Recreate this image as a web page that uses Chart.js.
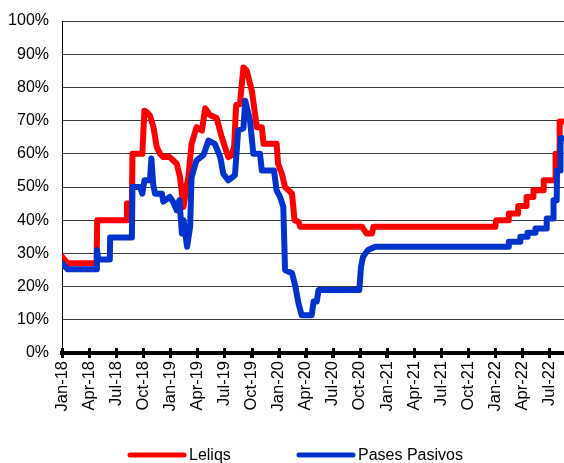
<!DOCTYPE html>
<html>
<head>
<meta charset="utf-8">
<script src="https://cdn.jsdelivr.net/npm/chart.js@4.4.1/dist/chart.umd.min.js"></script>
<style>
  html, body { margin: 0; padding: 0; background: #fff; }
  #wrap { width: 564px; height: 463px; position: relative; }
</style>
</head>
<body>
<div id="wrap"><canvas id="c" width="564" height="463"></canvas></div>
<script>
const tickLabels = ['Jan-18','Apr-18','Jul-18','Oct-18','Jan-19','Apr-19','Jul-19','Oct-19','Jan-20','Apr-20','Jul-20','Oct-20','Jan-21','Apr-21','Jul-21','Oct-21','Jan-22','Apr-22','Jul-22'];
const seriesNames = ['Leliqs', 'Pases Pasivos'];

const leliqDates = ['2018-01-01','2018-01-21','2018-04-26','2018-04-28','2018-08-06','2018-08-07','2018-08-24','2018-08-26','2018-09-28','2018-10-05','2018-10-14','2018-10-24','2018-11-05','2018-11-16','2018-11-27','2018-12-08','2018-12-30','2019-01-23','2019-02-03','2019-02-14','2019-02-23','2019-03-01','2019-03-12','2019-03-29','2019-04-16','2019-04-27','2019-05-13','2019-06-05','2019-06-22','2019-07-14','2019-07-25','2019-08-03','2019-08-10','2019-08-23','2019-09-04','2019-09-15','2019-10-02','2019-10-19','2019-11-05','2019-11-11','2019-12-25','2019-12-30','2020-01-12','2020-01-23','2020-02-15','2020-02-23','2020-03-07','2020-03-13','2020-10-08','2020-10-24','2020-11-11','2020-11-16','2022-01-01','2022-01-04','2022-02-14','2022-02-15','2022-03-17','2022-03-18','2022-04-14','2022-04-15','2022-05-07','2022-05-08','2022-06-11','2022-06-12','2022-07-21','2022-07-22','2022-08-04','2022-08-05','2022-08-20'];
const leliqValues = [29,27,27,40,40,45,45,60,60,73,72.5,71.5,68,62,60,59,59,57,53,44,50,53,63,68,67,73.7,71.7,70.8,65,59,59.5,62,74.7,75,86,85,79,68,68,63,63,57,54,50,48,40,39.5,38,38,36,36,38,38,40,40,42,42,44.3,44.3,47,47,49,49,52,52,60,60,69.7,69.7];

const pasesDates = ['2018-01-01','2018-01-21','2018-04-24','2018-04-27','2018-05-02','2018-06-10','2018-06-11','2018-08-24','2018-08-26','2018-09-20','2018-09-28','2018-10-05','2018-10-24','2018-10-29','2018-11-04','2018-11-10','2018-12-03','2018-12-08','2018-12-30','2019-01-11','2019-01-23','2019-02-01','2019-02-09','2019-02-14','2019-02-25','2019-03-07','2019-03-12','2019-03-29','2019-04-21','2019-05-08','2019-05-30','2019-06-17','2019-06-27','2019-07-14','2019-08-06','2019-08-17','2019-09-04','2019-09-10','2019-09-26','2019-10-07','2019-10-30','2019-11-05','2019-12-16','2019-12-25','2020-01-06','2020-01-17','2020-01-23','2020-02-15','2020-02-26','2020-03-07','2020-03-18','2020-04-21','2020-04-27','2020-05-08','2020-05-14','2020-09-29','2020-10-05','2020-10-12','2020-10-29','2020-11-22','2022-02-14','2022-02-15','2022-03-24','2022-03-25','2022-04-17','2022-04-18','2022-05-14','2022-05-15','2022-06-21','2022-06-22','2022-07-14','2022-07-15','2022-07-26','2022-07-27','2022-08-07','2022-08-08','2022-08-20'];
const pasesValues = [27,25.2,25.2,31,28.2,28.2,34.8,34.8,50,50,48,52,52,58.6,51,48,48,45.6,47,45.5,43,46,36,40,32,38,53,58,59.6,64,63,59,54,52,53.6,67,67.7,76,70,60,60,55,55,49,47,44,25,24,20,15,11.4,11.4,15.5,15.5,19,19,26,29,31,32,32,33.5,33.5,35,35,36.2,36.2,37.5,37.5,40.5,40.5,46,46,55,55,64.7,64.7];

const yTicks = [0,10,20,30,40,50,60,70,80,90,100];
const seriesColors = ['#FF0000', '#0033CC'];

// months elapsed since Jan-2018 (fractional)
function monthIndex(s) {
  const [y, m, d] = s.split('-').map(Number);
  const dim = new Date(y, m, 0).getDate();
  return (y - 2018) * 12 + (m - 1) + (d - 1) / dim;
}
function toPoints(dates, values) {
  return dates.map((d, i) => ({ x: monthIndex(d), y: values[i] }));
}
const xMax = monthIndex('2022-08-20');

const FONT = '"Liberation Sans", Arial, sans-serif';
Chart.defaults.font.family = FONT;
Chart.defaults.color = '#000';

const bottomLegend = {
  id: 'bottomLegend',
  afterDraw(chart) {
    const ctx = chart.ctx;
    const ds = chart.data.datasets;
    const y = 455;
    const starts = [130, 299];
    ctx.save();
    ctx.font = '16px ' + FONT;
    ctx.textBaseline = 'middle';
    ctx.textAlign = 'left';
    ds.forEach((d, i) => {
      const x0 = starts[i];
      ctx.strokeStyle = d.borderColor;
      ctx.lineWidth = 5;
      ctx.lineCap = 'round';
      ctx.beginPath();
      ctx.moveTo(x0, y);
      ctx.lineTo(x0 + 54, y);
      ctx.stroke();
      ctx.fillStyle = '#000';
      ctx.fillText(d.label, x0 + 59, y + 1);
    });
    ctx.restore();
  }
};

const axisTicks = {
  id: 'axisTicks',
  afterDraw(chart) {
    const xs = chart.scales.x;
    const ctx = chart.ctx;
    const yb = chart.chartArea.bottom;
    ctx.save();
    ctx.strokeStyle = '#000';
    ctx.lineWidth = 3;
    xs.ticks.forEach(t => {
      const px = Math.round(xs.getPixelForValue(t.value)) + 0.5;
      ctx.beginPath();
      ctx.moveTo(px, yb - 5);
      ctx.lineTo(px, yb + 5);
      ctx.stroke();
    });
    ctx.restore();
  }
};

new Chart(document.getElementById('c'), {
  type: 'line',
  data: {
    datasets: [
      { label: seriesNames[0], data: toPoints(leliqDates, leliqValues), borderColor: seriesColors[0], backgroundColor: seriesColors[0], borderWidth: 6, pointRadius: 0, tension: 0, borderJoinStyle: 'round', borderCapStyle: 'round', order: 1 },
      { label: seriesNames[1], data: toPoints(pasesDates, pasesValues), borderColor: seriesColors[1], backgroundColor: seriesColors[1], borderWidth: 6, pointRadius: 0, tension: 0, borderJoinStyle: 'round', borderCapStyle: 'round', order: 0 }
    ]
  },
  options: {
    responsive: false,
    animation: false,
    events: [],
    layout: { padding: { top: 21, right: 0, bottom: 0, left: 0 } },
    plugins: { legend: { display: false }, tooltip: { enabled: false } },
    scales: {
      x: {
        type: 'linear',
        min: 0,
        max: xMax,
        afterFit(s) { s.height = 110; s.paddingRight = 0; s.paddingLeft = 0; },
        afterBuildTicks(s) { s.ticks = tickLabels.map((_, i) => ({ value: i * 3 })); },
        grid: { drawOnChartArea: false, drawTicks: true, tickLength: 5, tickWidth: 3, tickColor: '#000' },
        border: { display: true, color: '#000', width: 4 },
        ticks: {
          autoSkip: false,
          minRotation: 90,
          maxRotation: 90,
          padding: 3,
          font: { size: 16.5 },
          callback: (v) => tickLabels[Math.round(v / 3)]
        }
      },
      y: {
        min: 0,
        max: 100,
        afterFit(s) { s.width = 62; s.paddingTop = 0; s.paddingBottom = 0; },
        afterBuildTicks(s) { s.ticks = yTicks.map(v => ({ value: v })); },
        grid: { color: '#3a3a3a', lineWidth: 1, drawTicks: false },
        border: { display: true, color: '#000', width: 1 },
        ticks: { padding: 13, font: { size: 16 }, callback: (v) => v + '%' }
      }
    }
  },
  plugins: [axisTicks, bottomLegend]
});
</script>
</body>
</html>
